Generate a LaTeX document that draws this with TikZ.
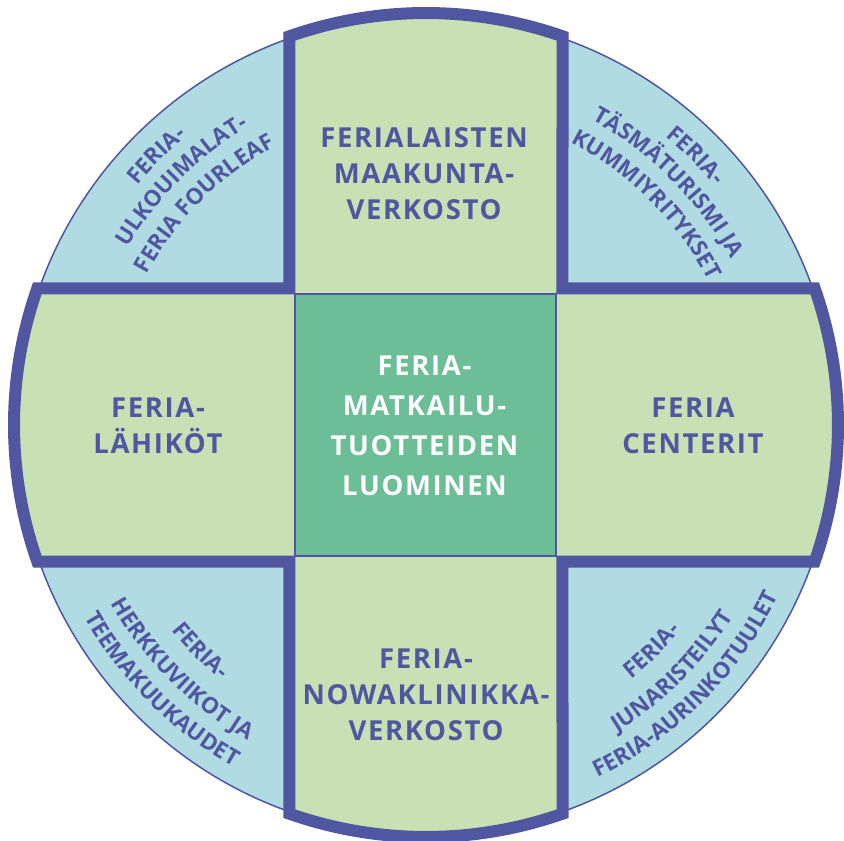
\documentclass[tikz,border=0pt]{standalone}
\usepackage{fontspec}
\setmainfont{Open Sans}
\newfontfamily\labelfont{Open Sans}[LetterSpace=6]
\usetikzlibrary{decorations.text}
\definecolor{ink}{HTML}{5056A0}
\definecolor{armgreen}{HTML}{C9E0B5}
\definecolor{coregreen}{HTML}{6BBE96}
\definecolor{quadblue}{HTML}{B0DBE2}
\newcommand\curvefont{\fontsize{22.5}{22.5}\selectfont\bfseries}
\tikzset{
  mainlabel/.style={align=center, inner sep=0pt, text=ink, font=\labelfont\fontsize{27.5}{36}\selectfont\bfseries},
  corelabel/.style={align=center, inner sep=0pt, text=white, font=\labelfont\fontsize{27.5}{40}\selectfont\bfseries},
  curved/.style={decorate, decoration={text along path, text align=center, text color=ink, text={|\curvefont|#1}}},
  crossline/.style={fill=armgreen, draw=ink, line width=12pt, miter limit=10, line join=miter},
}
\begin{document}
\begin{tikzpicture}[x=1pt,y=1pt]
\useasboundingbox (-426,-416) rectangle (418,425);
\def\h{136.5}
\def\R{412}
\def\a{19.35}
% disc
\fill[quadblue] (0,0) circle[radius=410];
\draw[ink, line width=1.5pt] (0,0) circle[radius=410];
% cross
\path[crossline] (-\h,\h) -- (90+\a:\R) arc[start angle=90+\a, end angle=90-\a, radius=\R]
  -- (\h,\h) -- (\a:\R) arc[start angle=\a, end angle=-\a, radius=\R]
  -- (\h,-\h) -- (-90+\a:\R) arc[start angle=-90+\a, end angle=-90-\a, radius=\R]
  -- (-\h,-\h) -- (180+\a:\R) arc[start angle=180+\a, end angle=180-\a, radius=\R]
  -- cycle;
% core
\filldraw[fill=coregreen, draw=ink, line width=2pt] (-130.5,-130.5) rectangle (130.5,130.5);
% labels
\node[mainlabel] (top) at (-2,251.25) {FERIALAISTEN\\MAAKUNTA-\\VERKOSTO};
\node[mainlabel] (bottom) at (0,-269.9) {FERIA-\\NOWAKLINIKKA-\\VERKOSTO};
\node[mainlabel] (left) at (-268,-0.6) {FERIA-\\LÄHIKÖT};
\node[mainlabel] (right) at (267,-0.6) {FERIA\\CENTERIT};
\node[corelabel] (core) at (-1.5,-0.9) {FERIA-\\MATKAILU-\\TUOTTEIDEN\\LUOMINEN};
% curved texts, top-left
\path[curved={FERIA-}] (180:375) arc[start angle=180, end angle=90, radius=375];
\path[curved={ULKOUIMALAT-}] (180:347) arc[start angle=180, end angle=90, radius=347];
\path[curved={FERIA FOURLEAF}] (180:317) arc[start angle=180, end angle=90, radius=317];
% top-right
\path[curved={FERIA-}] (90:375) arc[start angle=90, end angle=0, radius=375];
\path[curved={TÄSMÄTURISMI JA}] (90:347) arc[start angle=90, end angle=0, radius=347];
\path[curved={KUMMIYRITYKSET}] (90:317) arc[start angle=90, end angle=0, radius=317];
% bottom-right
\path[curved={FERIA-}] (-90:327) arc[start angle=-90, end angle=0, radius=327];
\path[curved={JUNARISTEILYT}] (-90:362) arc[start angle=-90, end angle=0, radius=362];
\path[curved={FERIA-AURINKOTUULET}] (-90:392) arc[start angle=-90, end angle=0, radius=392];
% bottom-left
\path[curved={FERIA-}] (180:327) arc[start angle=180, end angle=270, radius=327];
\path[curved={HERKKUVIIKOT JA}] (180:362) arc[start angle=180, end angle=270, radius=362];
\path[curved={TEEMAKUUKAUDET}] (180:392) arc[start angle=180, end angle=270, radius=392];
\end{tikzpicture}
\end{document}
